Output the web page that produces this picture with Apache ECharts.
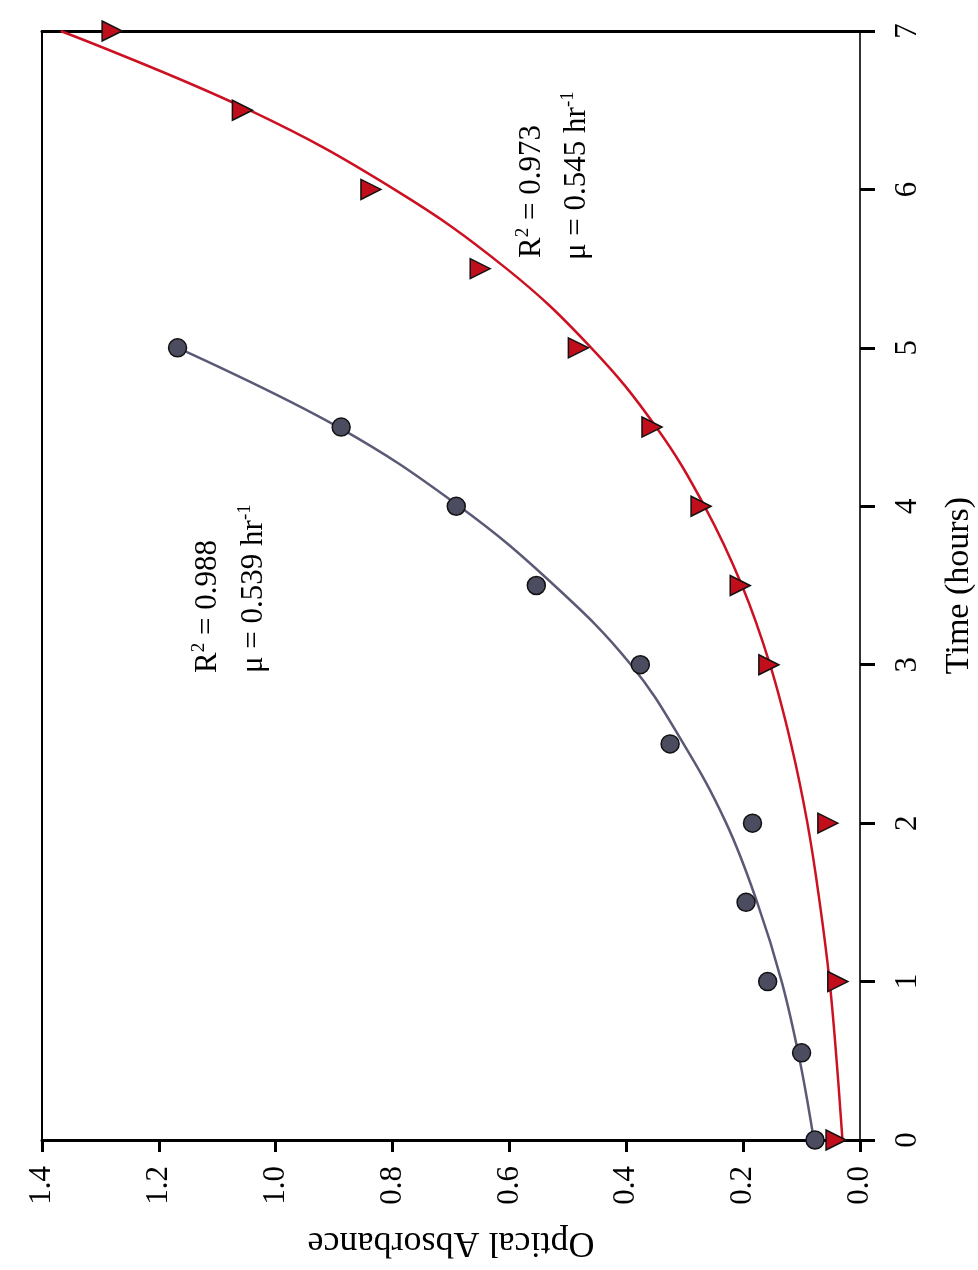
<!DOCTYPE html>
<html>
<head>
<meta charset="utf-8">
<script src="https://cdn.jsdelivr.net/npm/echarts@6/dist/echarts.min.js"></script>
<style>
html,body{margin:0;padding:0;background:#fff;}
#chart{width:978px;height:1270px;}
</style>
</head>
<body>
<div id="chart"></div>
<script>
// Observed data (time in hours, optical absorbance)
const circleTime = [0, 0.55, 1, 1.5, 2, 2.5, 3, 3.5, 4, 4.5, 5];
const circleAbs  = [0.077, 0.100, 0.158, 0.195, 0.184, 0.325, 0.376, 0.554, 0.691, 0.888, 1.168];

const triangleTime = [0, 1, 2, 3, 3.5, 4, 4.5, 5, 5.5, 6, 6.5, 7];
const triangleAbs  = [0.041, 0.038, 0.055, 0.156, 0.205, 0.272, 0.356, 0.482, 0.650, 0.837, 1.057, 1.280];

// Fitted curves
const fitTimeA = [0, 0.5, 1, 1.5, 2, 2.5, 3, 3.5, 4, 4.5, 5];
const fitAbsA  = [0.079, 0.103, 0.134, 0.176, 0.229, 0.302, 0.392, 0.523, 0.686, 0.893, 1.168];

const fitTimeB = [0, 0.5, 1, 1.5, 2, 2.5, 3, 3.5, 4, 4.5, 5, 5.5, 6, 6.5, 7];
const fitAbsB  = [0.030, 0.040, 0.052, 0.069, 0.090, 0.118, 0.154, 0.202, 0.266, 0.349, 0.460, 0.605, 0.797, 1.045, 1.368];

const absTicks = ['0.0', '0.2', '0.4', '0.6', '0.8', '1.0', '1.2', '1.4'];
const timeTicks = ['0', '1', '2', '3', '4', '5', '6', '7'];

const annotA = ['R', '2', ' = 0.988', 'μ = 0.539 hr', '-1'];
const annotB = ['R', '2', ' = 0.973', 'μ = 0.545 hr', '-1'];

const FONT = '"Liberation Serif", "Times New Roman", serif';

function zip(xs, ys) { return xs.map((x, i) => [ys[i], x]); }

const chart = echarts.init(document.getElementById('chart'), null, {renderer: 'canvas'});

const rich = {
  n: {fontFamily: FONT, fontSize: 31, lineHeight: 36, fill: '#000'},
  s: {fontFamily: FONT, fontSize: 19, lineHeight: 22, verticalAlign: 'top', fill: '#000'}
};

function annText(x, y, txt) {
  return {
    type: 'text', x: x, y: y, rotation: Math.PI / 2, z: 100,
    style: {text: txt, rich: rich, fill: '#000', fontFamily: FONT, fontSize: 31,
            align: 'left', verticalAlign: 'middle'}
  };
}

const option = {
  backgroundColor: '#fff',
  animation: false,
  grid: {left: 42, right: 118, top: 31, bottom: 130, outerBoundsMode: 'none'},
  xAxis: [{
    type: 'value', min: 0, max: 1.4, interval: 0.2, inverse: true, position: 'bottom',
    name: 'Optical Absorbance', nameLocation: 'middle', nameRotate: 180, nameGap: 84,
    nameTextStyle: {fontFamily: FONT, fontSize: 36, color: '#000'},
    axisLine: {show: true, onZero: false, lineStyle: {color: '#000', width: 3}},
    axisTick: {show: true, inside: false, length: 12, lineStyle: {color: '#000', width: 3}},
    axisLabel: {rotate: 90, margin: 26, fontFamily: FONT, fontSize: 31, color: '#000',
      formatter: (v) => absTicks[Math.round(v / 0.2)]},
    splitLine: {show: false}
  }, {
    type: 'value', min: 0, max: 1.4, inverse: true, position: 'top',
    axisLine: {show: true, onZero: false, lineStyle: {color: '#000', width: 3}},
    axisTick: {show: false}, axisLabel: {show: false}, splitLine: {show: false}
  }],
  yAxis: [{
    type: 'value', min: 0, max: 7, interval: 1, position: 'right',
    name: 'Time (hours)', nameLocation: 'middle', nameRotate: 90, nameGap: 82,
    nameTextStyle: {fontFamily: FONT, fontSize: 34, color: '#000'},
    axisLine: {show: true, onZero: false, lineStyle: {color: '#333', width: 2}},
    axisTick: {show: true, inside: false, length: 15, lineStyle: {color: '#000', width: 3}},
    axisLabel: {rotate: 90, margin: 32, fontFamily: FONT, fontSize: 31, color: '#000',
      formatter: (v) => timeTicks[Math.round(v)]},
    splitLine: {show: false}
  }, {
    type: 'value', min: 0, max: 7, position: 'left',
    axisLine: {show: true, onZero: false, lineStyle: {color: '#000', width: 2}},
    axisTick: {show: false}, axisLabel: {show: false}, splitLine: {show: false}
  }],
  series: [{
    type: 'line', xAxisIndex: 0, yAxisIndex: 0, data: zip(fitTimeA, fitAbsA),
    smooth: 0.4, showSymbol: false, symbol: 'none',
    lineStyle: {color: '#5a5a76', width: 2.5}, z: 2
  }, {
    type: 'line', xAxisIndex: 0, yAxisIndex: 0, data: zip(fitTimeB, fitAbsB),
    smooth: 0.4, showSymbol: false, symbol: 'none',
    lineStyle: {color: '#cc1122', width: 2.5}, z: 2
  }, {
    type: 'scatter', xAxisIndex: 0, yAxisIndex: 0, data: zip(circleTime, circleAbs),
    symbol: 'circle', symbolSize: 18,
    itemStyle: {color: '#4c4c60', borderColor: '#111', borderWidth: 1.5, opacity: 1}, z: 5
  }, {
    type: 'scatter', xAxisIndex: 0, yAxisIndex: 0, data: zip(triangleTime, triangleAbs),
    symbol: 'triangle', symbolSize: 20, symbolRotate: -90,
    itemStyle: {color: '#c00f1a', borderColor: '#111', borderWidth: 1.5, opacity: 1}, z: 5
  }],
  graphic: [
    annText(208, 673, '{n|' + annotA[0] + '}{s|' + annotA[1] + '}{n|' + annotA[2] + '}'),
    annText(254, 673, '{n|' + annotA[3] + '}{s|' + annotA[4] + '}'),
    annText(532, 258, '{n|' + annotB[0] + '}{s|' + annotB[1] + '}{n|' + annotB[2] + '}'),
    annText(577, 260, '{n|' + annotB[3] + '}{s|' + annotB[4] + '}')
  ]
};
chart.setOption(option);
</script>
</body>
</html>
